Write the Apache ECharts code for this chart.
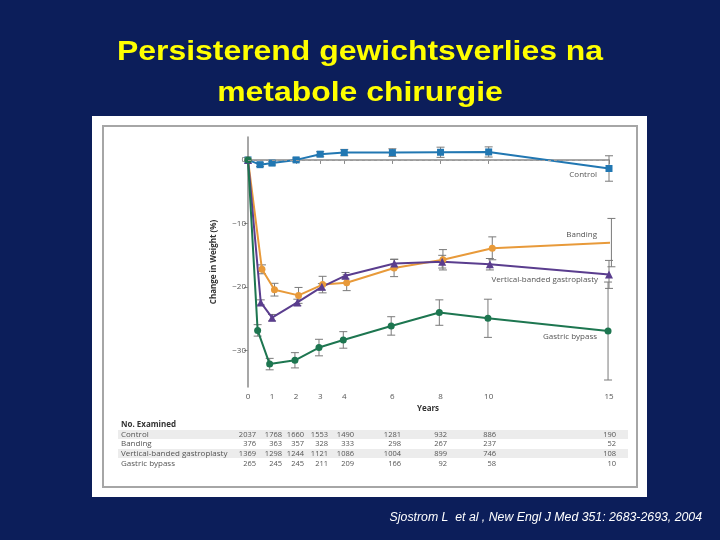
<!DOCTYPE html>
<html><head><meta charset="utf-8">
<script src="https://cdn.jsdelivr.net/npm/echarts@6/dist/echarts.min.js"></script>
<style>html,body{margin:0;padding:0;background:#0c1e5a}#c{width:720px;height:540px}</style>
</head><body><div id="c"></div>
<script>
// ---- data ----
const xTicks = [0, 1, 2, 3, 4, 6, 8, 10, 15];
const yTicks = [0, -10, -20, -30];

const controlX = [0, 0.5, 1, 2, 3, 4, 6, 8, 10, 15];
const controlY = [0, -0.75, -0.5, 0, 0.9, 1.15, 1.15, 1.2, 1.25, -1.35];
const controlErr = [0, 0.3, 0.3, 0.3, 0.4, 0.5, 0.6, 0.8, 0.8, 2.0];

const bandingX = [0, 0.58, 1.1, 2.1, 3.1, 4.1, 6.07, 8.1, 10.15, 15.1];
const bandingY = [0, -17.2, -20.4, -21.3, -19.6, -19.3, -17.0, -15.7, -13.9, -13.0];
const bandingErr = [0, 0.7, 1.0, 1.25, 1.3, 1.25, 1.35, 1.6, 1.8, 3.8];

const vbgX = [0, 0.53, 1.0, 2.05, 3.07, 4.05, 6.08, 8.07, 10.05, 15];
const vbgY = [0, -22.4, -24.8, -22.4, -19.95, -18.2, -16.3, -16.0, -16.4, -18.0];
const vbgErr = [0, 0.4, 0.5, 0.5, 0.5, 0.5, 0.7, 1.0, 0.9, 2.2];

const gbX = [0, 0.4, 0.9, 1.95, 2.95, 3.96, 5.95, 7.95, 9.97, 14.96];
const gbY = [0, -26.8, -32.1, -31.5, -29.5, -28.3, -26.1, -24.0, -24.9, -26.9];
const gbErr = [0, 0.9, 0.9, 1.2, 1.3, 1.3, 1.45, 2.0, 3.0, 7.7];

const seriesNames = ['Control', 'Banding', 'Vertical-banded gastroplasty', 'Gastric bypass'];
const tableCounts = [
  [2037, 1768, 1660, 1553, 1490, 1281, 932, 886, 190],
  [376, 363, 357, 328, 333, 298, 267, 237, 52],
  [1369, 1298, 1244, 1121, 1086, 1004, 899, 746, 108],
  [265, 245, 245, 211, 209, 166, 92, 58, 10]
];
const titleLines = ['Persisterend gewichtsverlies na', 'metabole chirurgie'];
const citation = 'Sjostrom L  et al , New Engl J Med 351: 2683-2693, 2004';

// ---- styling ----
const colors = ['#2177b2', '#e89a3a', '#5a3d8e', '#1d7650'];
const symbols = ['rect', 'circle', 'triangle', 'circle'];
const allX = [controlX, bandingX, vbgX, gbX];
const allY = [controlY, bandingY, vbgY, gbY];
const allE = [controlErr, bandingErr, vbgErr, gbErr];

const chart = echarts.init(document.getElementById('c'));

const series = [];
allX.forEach((xs, s) => {
  series.push({
    type: 'custom', z: 2, silent: true,
    data: xs.map((x, i) => [x, allY[s][i] - allE[s][i], allY[s][i] + allE[s][i]]).filter((d, i) => allE[s][i] > 0),
    renderItem: function (params, api) {
      const x = api.value(0);
      const p1 = api.coord([x, api.value(2)]);
      const p2 = api.coord([x, api.value(1)]);
      const st = { stroke: '#7a7a7a', lineWidth: 1 };
      return { type: 'group', children: [
        { type: 'line', shape: { x1: p1[0], y1: p1[1], x2: p2[0], y2: p2[1] }, style: st },
        { type: 'line', shape: { x1: p1[0] - 4, y1: p1[1], x2: p1[0] + 4, y2: p1[1] }, style: st },
        { type: 'line', shape: { x1: p2[0] - 4, y1: p2[1], x2: p2[0] + 4, y2: p2[1] }, style: st }
      ] };
    }
  });
});
allX.forEach((xs, s) => {
  const ser = {
    type: 'line', name: seriesNames[s], z: 3,
    data: xs.map((x, i) => [x, allY[s][i]]),
    symbol: symbols[s], symbolSize: s === 2 ? 8 : 7,
    lineStyle: { color: colors[s], width: 2 },
    itemStyle: { color: colors[s] }
  };
  if (s === 0) {
    ser.markLine = { silent: true, symbol: 'none', label: { show: false },
      lineStyle: { color: '#999', type: [3, 3], width: 1 },
      data: [[{ coord: [0, 0] }, { coord: [15, 0] }]] };
  }
  series.push(ser);
});

const graphic = [
  { type: 'rect', shape: { x: 92, y: 116, width: 555, height: 381 }, style: { fill: '#ffffff' }, z: -10 },
  { type: 'rect', shape: { x: 103, y: 126, width: 534, height: 361 }, style: { fill: '#ffffff', stroke: '#a6a6a6', lineWidth: 2 }, z: -9 },
  { type: 'rect', shape: { x: 118, y: 430, width: 510, height: 9 }, style: { fill: '#ececec' }, z: -8 },
  { type: 'rect', shape: { x: 118, y: 449, width: 510, height: 9 }, style: { fill: '#ececec' }, z: -8 }
];
titleLines.forEach((t, i) => {
  graphic.push({ type: 'text', x: 360, y: 52 + i * 41, scaleX: 1.14, style: {
    text: t, fill: '#ffff00', font: 'bold 28px "Liberation Sans", Arial, sans-serif',
    textAlign: 'center', textVerticalAlign: 'middle',
    textShadowColor: 'rgba(0,0,0,0.8)', textShadowOffsetX: 2, textShadowOffsetY: 2, textShadowBlur: 0 } });
});
graphic.push({ type: 'text', x: 702, y: 518, style: { text: citation, fill: '#ffffff',
  font: 'italic 12.3px "Liberation Sans", Arial, sans-serif', textAlign: 'right', textVerticalAlign: 'middle' } });

// series annotations
const annot = [[597, 175], [597, 235], [598, 280], [597, 337]];
seriesNames.forEach((n, i) => {
  graphic.push({ type: 'text', x: annot[i][0], y: annot[i][1], style: { text: n, fill: '#555',
    font: '8px "Open Sans", "Liberation Sans", sans-serif', textAlign: 'right', textVerticalAlign: 'middle' } });
});
// table
const colRight = [256, 282, 304, 328, 354, 401, 447, 496, 616];
const rowY = [434.5, 444, 454, 463.5];
graphic.push({ type: 'text', x: 121, y: 425, style: { text: 'No. Examined', fill: '#333',
  font: 'bold 8px "Open Sans", "Liberation Sans", sans-serif', textAlign: 'left', textVerticalAlign: 'middle' } });
seriesNames.forEach((n, r) => {
  graphic.push({ type: 'text', x: 121, y: rowY[r], style: { text: n, fill: '#555',
    font: '8px "Open Sans", "Liberation Sans", sans-serif', textAlign: 'left', textVerticalAlign: 'middle' } });
  tableCounts[r].forEach((v, c) => {
    graphic.push({ type: 'text', x: colRight[c], y: rowY[r], style: { text: String(v), fill: '#555',
      font: '7.5px "Open Sans", "Liberation Sans", sans-serif', textAlign: 'right', textVerticalAlign: 'middle' } });
  });
});
graphic.push({ type: 'text', x: 428, y: 409, style: { text: 'Years', fill: '#333',
  font: 'bold 8px "Open Sans", "Liberation Sans", sans-serif', textAlign: 'center', textVerticalAlign: 'middle' } });

chart.setOption({
  backgroundColor: '#0c1e5a',
  animation: false,
  grid: { left: 248, top: 137, width: 361, height: 250 },
  xAxis: {
    type: 'value', min: 0, max: 15,
    splitLine: { show: false },
    axisLine: { lineStyle: { color: '#8a8a8a', width: 1.5 } },
    axisTick: { customValues: xTicks, length: 4, lineStyle: { color: '#8a8a8a' } },
    axisLabel: { customValues: xTicks, color: '#555', fontSize: 8, margin: 6, fontFamily: 'Open Sans' }
  },
  yAxis: {
    type: 'value', min: -35.7, max: 3.6,
    name: 'Change in Weight (%)', nameLocation: 'middle', nameGap: 30, nameRotate: 90,
    nameTextStyle: { color: '#333', fontSize: 8, fontWeight: 'bold', fontFamily: 'Open Sans' },
    splitLine: { show: false },
    axisLine: { show: true, lineStyle: { color: '#8a8a8a', width: 1.5 } },
    axisTick: { show: true, customValues: yTicks, length: 4, lineStyle: { color: '#8a8a8a' } },
    axisLabel: { customValues: yTicks, color: '#555', fontSize: 8, margin: 2, fontFamily: 'Open Sans',
      formatter: v => (v < 0 ? '\u2212' + Math.abs(v) : String(v)) }
  },
  graphic: graphic,
  series: series
});
</script></body></html>
